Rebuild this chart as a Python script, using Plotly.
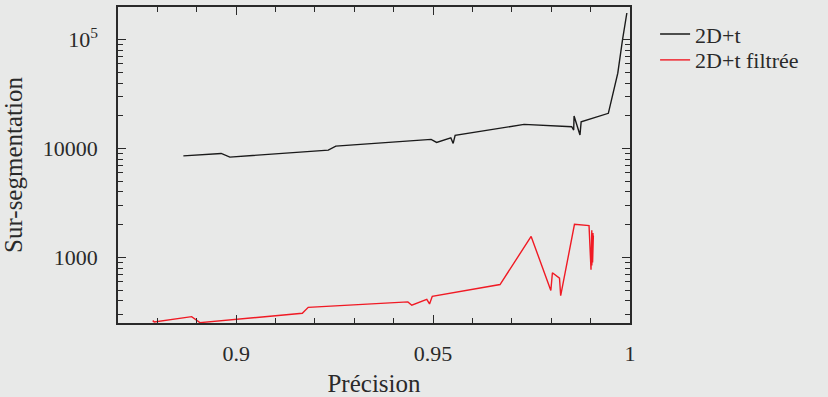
import plotly.graph_objects as go

# Courbe "2D+t"
precision_2dt = [0.8866, 0.8962, 0.8984, 0.9234, 0.9253, 0.9495, 0.9509, 0.9545, 0.9551, 0.9556,
                 0.9731, 0.9852, 0.9857, 0.9858, 0.9873, 0.9876, 0.9945, 0.9969, 0.9981, 0.9992]
surseg_2dt = [8580, 9030, 8350, 9690, 10550, 12150, 11410, 12580, 11170, 13230,
              16710, 15880, 14810, 19930, 13320, 17660, 21100, 49340, 100000, 176200]

# Courbe "2D+t filtrée"
precision_filt = [0.8788, 0.8792, 0.8887, 0.8901, 0.8908, 0.9168, 0.9183, 0.9436, 0.9446, 0.9484,
                  0.9491, 0.9498, 0.9670, 0.9749, 0.9799, 0.9803, 0.9821, 0.9824, 0.9859, 0.9896,
                  0.9901, 0.9903, 0.9903, 0.9906, 0.9905, 0.9907]
surseg_filt = [263, 256, 286, 263, 252, 307, 348, 391, 364, 413,
               374, 440, 564, 1561, 497, 723, 645, 446, 2014, 1960,
               770, 1774, 844, 1675, 899, 1595]

y_tickvals = [1000, 10000, 100000]
y_ticktext = ['1000', '10000', '10<sup>5</sup>']
x_tickvals = [0.9, 0.95, 1]
x_ticktext = ['0.9', '0.95', '1']

bg = '#e8e9e8'
txt = '#2a2a2a'
police = 'Liberation Serif'

fig = go.Figure()
fig.add_trace(go.Scatter(
    x=precision_2dt, y=surseg_2dt, mode='lines', name='2D+t',
    line=dict(color='#1a1a1a', width=1.4), legend='legend'
))
fig.add_trace(go.Scatter(
    x=precision_filt, y=surseg_filt, mode='lines', name='2D+t filtrée',
    line=dict(color='#f01a24', width=1.4), legend='legend2'
))

# une légende par courbe pour garder l'espacement serré
leg = dict(xanchor='left', yanchor='middle', bgcolor='rgba(0,0,0,0)',
           font=dict(size=22, color=txt), itemwidth=30)
fig.update_layout(
    width=828, height=397,
    paper_bgcolor=bg, plot_bgcolor=bg,
    margin=dict(l=118, r=198, t=7, b=74),
    font=dict(family=police, size=21, color=txt),
    showlegend=True,
    legend=dict(leg, x=1.049, y=0.914),
    legend2=dict(leg, x=1.049, y=0.832),
)

fig.update_xaxes(
    range=[0.87, 1], showgrid=False, zeroline=False, automargin=False,
    showline=True, linecolor=txt, linewidth=1.5, mirror='ticks',
    ticks='inside', ticklen=8, tickwidth=1.3, tickcolor=txt,
    tickvals=x_tickvals, ticktext=x_ticktext, tickfont=dict(size=22),
    ticklabelstandoff=10,
    minor=dict(ticks='inside', ticklen=5, tickwidth=1.3, tickcolor=txt, dtick=0.01, showgrid=False),
    title=dict(text='Précision', standoff=14),
)
fig.update_yaxes(
    type='log', range=[2.398, 5.301], showgrid=False, zeroline=False, automargin=False,
    showline=True, linecolor=txt, linewidth=1.5, mirror='ticks',
    ticks='inside', ticklen=8, tickwidth=1.3, tickcolor=txt,
    tickvals=y_tickvals, ticktext=y_ticktext, tickfont=dict(size=22),
    ticklabelstandoff=14,
    minor=dict(ticks='inside', ticklen=5, tickwidth=1.3, tickcolor=txt, dtick='D1', showgrid=False),
    title=dict(text='Sur-segmentation', standoff=14),
)

fig.write_html("out.html", config={'displayModeBar': False},
               post_script="document.body.style.margin='0px';")
